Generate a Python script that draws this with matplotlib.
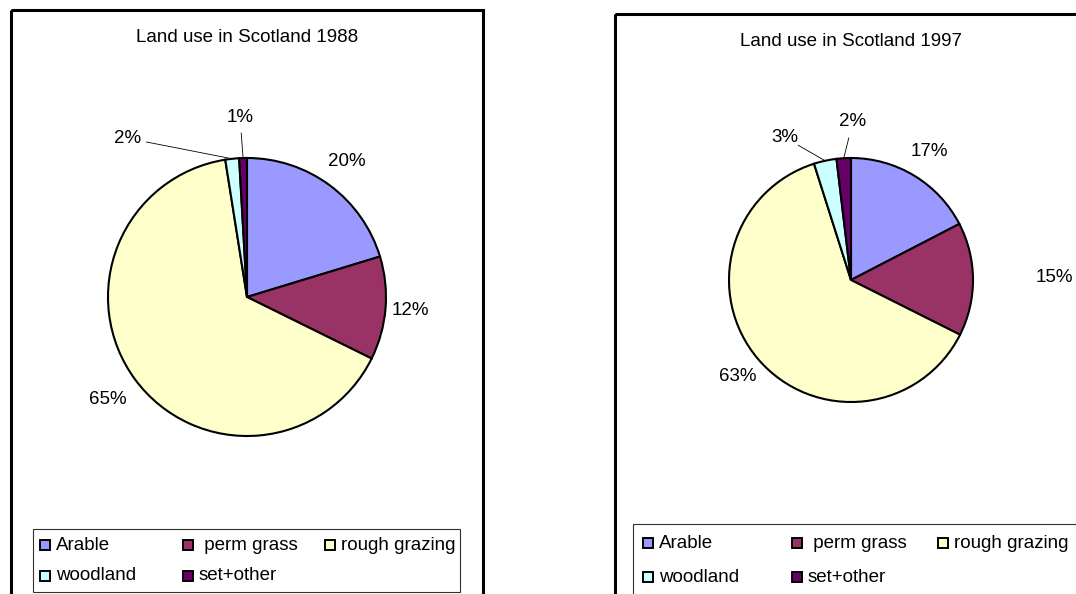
import numpy as np
import matplotlib
matplotlib.use("Agg")
import matplotlib.pyplot as plt
from matplotlib.patches import Rectangle

plt.rcParams['font.family'] = ['Liberation Sans', 'DejaVu Sans']

# ---------------- data ----------------
categories = ["Arable", "perm grass", "rough grazing", "woodland", "set+other"]
legend_labels = ["Arable", " perm grass", "rough grazing", "woodland", "set+other"]
colors = ["#9999FF", "#993366", "#FFFFCC", "#CCFFFF", "#660066"]

titles = ["Land use in Scotland 1988", "Land use in Scotland 1997"]
values_1988 = [20.3, 12.0, 65.2, 1.6, 0.9]
values_1997 = [17.4, 15.0, 62.7, 3.0, 1.9]

# ---------------- style / layout (pixels) ----------------
W, H = 1076, 594
FS = 13.5
panels = [
    dict(values=values_1988, title=titles[0],
         border=(11, 10, 483, 640), center=(247, 297), r=139, title_y=37,
         leg_box=(33, 529, 460, 592), leg_cols=[7, 150, 292], leg_rows=[545, 576],
         # per label: (angle in deg or None -> wedge middle, distance in radii, leader gap)
         lab=[(None, 1.21, None), (None, 1.18, None), (None, 1.24, None),
              (127, 1.43, 0.14), (92.2, 1.29, 0.11)]),
    dict(values=values_1997, title=titles[1],
         border=(615, 14, 1090, 640), center=(851, 280), r=122, title_y=42,
         leg_box=(633, 524, 1090, 600), leg_cols=[10, 159, 305], leg_rows=[543, 577],
         lab=[(None, 1.23, None), (0.6, 1.67, None), (None, 1.22, None),
              (115, 1.29, 0.13), (89.3, 1.30, 0.14)]),
]

fig = plt.figure(figsize=(W / 100, H / 100), dpi=100)
fig.patch.set_facecolor("white")

# overlay axes in pixel coordinates for borders, titles, legends
ov = fig.add_axes([0, 0, 1, 1])
ov.set_xlim(0, W)
ov.set_ylim(H, 0)
ov.axis("off")
ov.patch.set_visible(False)

for p in panels:
    x0, y0, x1, y1 = p["border"]
    ov.add_patch(Rectangle((x0, y0), x1 - x0, y1 - y0, fill=False,
                           edgecolor="black", linewidth=2.2, clip_on=False))
    cx, cy = p["center"]
    r = p["r"]
    ov.text(cx, p["title_y"], p["title"], ha="center", va="center", fontsize=FS)

    # legend
    lx0, ly0, lx1, ly1 = p["leg_box"]
    ov.add_patch(Rectangle((lx0, ly0), lx1 - lx0, ly1 - ly0, fill=False,
                           edgecolor="#303030", linewidth=0.8, clip_on=False))
    for i, (lab, col) in enumerate(zip(legend_labels, colors)):
        row, c = divmod(i, 3)
        sx = lx0 + p["leg_cols"][c]
        sy = p["leg_rows"][row]
        ov.add_patch(Rectangle((sx, sy - 5), 10, 10, facecolor=col,
                               edgecolor="black", linewidth=1.4))
        ov.text(sx + 16, sy, lab, ha="left", va="center", fontsize=FS)

    # pie axes
    ax = fig.add_axes([(cx - r) / W, 1 - (cy + r) / H, 2 * r / W, 2 * r / H])
    wedges, _ = ax.pie(p["values"], colors=colors, startangle=90, counterclock=False,
                       radius=1,
                       wedgeprops=dict(edgecolor="black", linewidth=1.5))
    ax.set_xlim(-1, 1)
    ax.set_ylim(-1, 1)
    ax.set_aspect("equal")
    ax.axis("off")

    for w, v, (ang, dist, gap) in zip(wedges, p["values"], p["lab"]):
        mid = 0.5 * (w.theta1 + w.theta2)
        a = np.deg2rad(mid if ang is None else ang)
        lx, ly = dist * np.cos(a), dist * np.sin(a)
        ax.text(lx, ly, f"{v:.0f}%", ha="center", va="center", fontsize=FS,
                clip_on=False)
        if gap is not None:
            m = np.deg2rad(mid)
            axp, ayp = np.cos(m), np.sin(m)
            d = np.array([axp - lx, ayp - ly])
            d = d / np.linalg.norm(d)
            ax.plot([lx + gap * d[0], axp], [ly + gap * d[1], ayp],
                    color="black", linewidth=0.6, clip_on=False)

fig.savefig("out.png", dpi=100, facecolor="white")
